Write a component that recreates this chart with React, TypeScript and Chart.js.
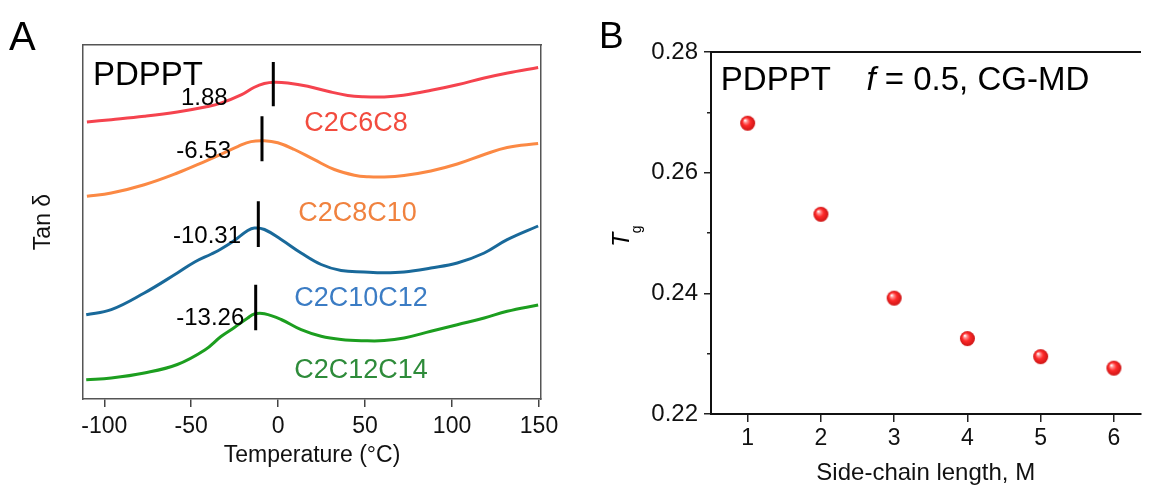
import React, { useEffect, useRef } from 'react';
import { Chart, registerables } from 'chart.js';

Chart.register(...registerables);

const FONT = "'Liberation Sans', Arial, Helvetica, sans-serif";

// ---------------- Panel A data ----------------
const tempTicks = [-100, -50, 0, 50, 100, 150];
const seriesNames = ['C2C6C8', 'C2C8C10', 'C2C10C12', 'C2C12C14'];
const peakLabels = ['1.88', '-6.53', '-10.31', '-13.26'];

const tempC2C6C8 = [-110, -96, -77, -58, -42, -33, -21, -14, -8, -2, 5.5, 17, 28.5, 40, 49, 61, 72, 88, 103, 118.5, 132, 149.5];
const tanC2C6C8 = [2.77, 2.793, 2.827, 2.87, 2.92, 2.958, 3.043, 3.115, 3.155, 3.168, 3.16, 3.127, 3.077, 3.035, 3.022, 3.02, 3.037, 3.087, 3.143, 3.21, 3.26, 3.315];

const tempC2C8C10 = [-110, -96, -77, -58, -42, -33, -23, -15.6, -8, -0.2, 9.3, 20.8, 32.3, 43.8, 52, 61, 72.4, 87.8, 103, 118.5, 131.7, 149.5];
const tanC2C8C10 = [2.027, 2.06, 2.143, 2.26, 2.377, 2.447, 2.527, 2.574, 2.583, 2.562, 2.495, 2.393, 2.295, 2.238, 2.222, 2.22, 2.235, 2.28, 2.35, 2.445, 2.515, 2.555];

const tempC2C10C12 = [-110.4, -96, -77, -58, -48, -38.4, -32.9, -25.2, -17.5, -13.7, -7.9, 1.7, 13.2, 24.7, 36.2, 49.4, 61, 72.4, 87.8, 103, 118.5, 131.7, 149.5];
const tanC2C10C12 = [0.843, 0.893, 1.06, 1.26, 1.37, 1.45, 1.50, 1.585, 1.685, 1.71, 1.695, 1.595, 1.46, 1.345, 1.285, 1.27, 1.262, 1.27, 1.31, 1.36, 1.46, 1.593, 1.73];

const tempC2C12C14 = [-110.4, -96, -77, -58, -42.2, -32.9, -25.2, -17.5, -13.7, -7.9, 1.7, 13.2, 24.7, 36.2, 49.4, 61, 72.4, 87.8, 103, 118.5, 131.7, 149.5];
const tanC2C12C14 = [0.193, 0.21, 0.26, 0.345, 0.49, 0.625, 0.715, 0.81, 0.85, 0.852, 0.795, 0.693, 0.627, 0.595, 0.583, 0.584, 0.61, 0.677, 0.743, 0.81, 0.877, 0.94];

// Tg marker bars (temperature, top, bottom)
const markerTemp = [-2.81, -9.31, -11.43, -12.93];
const markerTop = [3.37, 2.827, 1.977, 1.143];
const markerBottom = [2.927, 2.377, 1.52, 0.687];

// ---------------- Panel B data ----------------
const sideChainLength = [1, 2, 3, 4, 5, 6];
const tgValues = [0.2682, 0.2531, 0.2392, 0.2325, 0.2295, 0.2276];
const tgTicks = [0.22, 0.24, 0.26, 0.28];
const tgMinorTicks = [0.23, 0.25, 0.27];

// ---------------- styles ----------------
const lineColors = ['#f5434e', '#fb8944', '#19699a', '#1c9e1f'];
const textColors = ['#f24b3e', '#f0823f', '#3b7cc4', '#2e8b3a'];

// annotation anchors (data coordinates) for panel A
const peakLabelAnchor = [
  [-29.03, 2.943],
  [-27.13, 2.41],
  [-21.38, 1.56],
  [-19.48, 0.743],
];
const nameLabelAnchor = [
  [15.02, 2.677],
  [11.57, 1.777],
  [9.27, 0.927],
  [9.27, 0.21],
];

function toXY(xs: number[], ys: number[]) {
  return xs.map((x, i) => ({ x, y: ys[i] }));
}

function makeSphere(r: number) {
  const c = document.createElement('canvas');
  const s = Math.ceil(r * 2 + 2);
  c.width = s;
  c.height = s;
  const g = c.getContext('2d')!;
  const cx = s / 2;
  const cy = s / 2;
  const grad = g.createRadialGradient(cx - r * 0.35, cy - r * 0.4, r * 0.05, cx, cy, r);
  grad.addColorStop(0, '#ffffff');
  grad.addColorStop(0.2, '#ff9090');
  grad.addColorStop(0.5, '#ff2a2a');
  grad.addColorStop(1, '#cc1414');
  g.fillStyle = grad;
  g.beginPath();
  g.arc(cx, cy, r, 0, Math.PI * 2);
  g.fill();
  return c;
}

const annotationsA = {
  id: 'annotationsA',
  afterDatasetsDraw(chart: any) {
    const { ctx, scales } = chart;
    const x = scales.x;
    const y = scales.y;
    ctx.save();
    ctx.textBaseline = 'alphabetic';
    ctx.fillStyle = '#000';
    ctx.textAlign = 'left';
    ctx.font = `40px ${FONT}`;
    ctx.fillText('A', 9, 50);
    ctx.font = `33px ${FONT}`;
    ctx.fillText('PDPPT', x.getPixelForValue(-106.5), y.getPixelForValue(3.143));
    ctx.font = `24px ${FONT}`;
    ctx.textAlign = 'right';
    peakLabels.forEach((t, i) => {
      ctx.fillText(t, x.getPixelForValue(peakLabelAnchor[i][0]), y.getPixelForValue(peakLabelAnchor[i][1]));
    });
    ctx.textAlign = 'left';
    ctx.font = `27px ${FONT}`;
    seriesNames.forEach((t, i) => {
      ctx.fillStyle = textColors[i];
      ctx.fillText(t, x.getPixelForValue(nameLabelAnchor[i][0]), y.getPixelForValue(nameLabelAnchor[i][1]));
    });
    ctx.restore();
  },
};

const annotationsB = {
  id: 'annotationsB',
  afterDatasetsDraw(chart: any) {
    const { ctx, scales } = chart;
    const x = scales.x;
    const y = scales.y;
    ctx.save();
    ctx.textBaseline = 'alphabetic';
    ctx.fillStyle = '#000';
    ctx.textAlign = 'left';
    ctx.font = `37px ${FONT}`;
    ctx.fillText('B', 25, 48);
    ctx.font = `33px ${FONT}`;
    const by = y.getPixelForValue(0.2737);
    ctx.fillText('PDPPT', x.getPixelForValue(0.6345), by);
    const fx = x.getPixelForValue(2.622);
    ctx.font = `italic 33px ${FONT}`;
    ctx.fillText('f', fx, by);
    const fw = ctx.measureText('f').width;
    ctx.font = `33px ${FONT}`;
    ctx.fillText(' = 0.5, CG-MD', fx + fw, by);
    // y-axis title: italic T with subscript g, rotated
    ctx.translate(55.3, 246.7);
    ctx.rotate(-Math.PI / 2);
    ctx.font = `italic 23px ${FONT}`;
    ctx.fillText('T', 0, 0);
    ctx.font = `14px ${FONT}`;
    ctx.fillText('g', 13.4, 11.5);
    ctx.restore();
  },
};

export default function App() {
  const refA = useRef<HTMLCanvasElement>(null);
  const refB = useRef<HTMLCanvasElement>(null);

  useEffect(() => {
    const temps = [tempC2C6C8, tempC2C8C10, tempC2C10C12, tempC2C12C14];
    const tans = [tanC2C6C8, tanC2C8C10, tanC2C10C12, tanC2C12C14];
    const curveSets = seriesNames.map((name, i) => ({
      label: name,
      data: toXY(temps[i], tans[i]),
      borderColor: lineColors[i],
      backgroundColor: lineColors[i],
      borderWidth: 3,
      pointRadius: 0,
      tension: 0.4,
      fill: false,
      order: 1,
    }));
    const markerSets = markerTemp.map((t, i) => ({
      label: 'Tg ' + peakLabels[i],
      data: [
        { x: t, y: markerTop[i] },
        { x: t, y: markerBottom[i] },
      ],
      borderColor: '#000',
      backgroundColor: '#000',
      borderWidth: 3,
      pointRadius: 0,
      tension: 0,
      fill: false,
      order: 0,
    }));

    const xMinA = -112.25;
    const xMaxA = 151.15;
    const frameA = '#555';
    const tickFontA = { family: FONT, size: 23 };

    const chartA = new Chart(refA.current!, {
      type: 'line',
      data: { datasets: [...curveSets, ...markerSets] as any },
      options: {
        animation: false,
        responsive: false,
        maintainAspectRatio: false,
        devicePixelRatio: 1,
        layout: { padding: 0 },
        plugins: { legend: { display: false }, tooltip: { enabled: false } },
        scales: {
          x: {
            type: 'linear',
            position: 'bottom',
            min: xMinA,
            max: xMaxA,
            afterBuildTicks: (s: any) => {
              s.ticks = tempTicks.map((v) => ({ value: v }));
            },
            ticks: { font: tickFontA, color: '#111', padding: 6, maxRotation: 0, autoSkip: false },
            grid: { display: true, drawOnChartArea: false, drawTicks: true, tickLength: 8, color: '#444', lineWidth: 1.5 },
            border: { display: true, color: frameA, width: 1.5 },
            title: { display: true, text: 'Temperature (°C)', font: { family: FONT, size: 23 }, color: '#111', padding: { top: 0, bottom: 22 } },
            afterFit: (s: any) => {
              s.height = 92;
            },
          },
          xTop: {
            type: 'linear',
            position: 'top',
            min: xMinA,
            max: xMaxA,
            ticks: { display: false },
            grid: { display: false },
            border: { display: true, color: frameA, width: 1.5 },
            afterFit: (s: any) => {
              s.height = 45;
            },
          },
          y: {
            type: 'linear',
            position: 'left',
            min: 0,
            max: 3.54,
            ticks: { display: false },
            grid: { display: false },
            border: { display: true, color: frameA, width: 1.5 },
            title: { display: true, text: 'Tan δ', font: { family: FONT, size: 23 }, color: '#111', padding: { top: 30, bottom: 0 } },
            afterFit: (s: any) => {
              s.width = 83;
            },
          },
          yRight: {
            type: 'linear',
            position: 'right',
            min: 0,
            max: 3.54,
            ticks: { display: false },
            grid: { display: false },
            border: { display: true, color: frameA, width: 1.5 },
            afterFit: (s: any) => {
              s.width = 33;
            },
          },
        },
      } as any,
      plugins: [annotationsA],
    });

    const sphere = makeSphere(7.5);
    const xMinB = 0.5;
    const xMaxB = 6.363;
    const axisB = '#111';

    const chartB = new Chart(refB.current!, {
      type: 'scatter',
      data: {
        datasets: [
          {
            label: 'Tg',
            data: toXY(sideChainLength, tgValues),
            pointStyle: sphere as any,
            pointRadius: 7.5,
            showLine: false,
          },
        ],
      },
      options: {
        animation: false,
        responsive: false,
        maintainAspectRatio: false,
        devicePixelRatio: 1,
        layout: { padding: 0 },
        plugins: { legend: { display: false }, tooltip: { enabled: false } },
        scales: {
          x: {
            type: 'linear',
            position: 'bottom',
            min: xMinB,
            max: xMaxB,
            afterBuildTicks: (s: any) => {
              s.ticks = sideChainLength.map((v) => ({ value: v }));
            },
            ticks: { font: { family: FONT, size: 23 }, color: '#111', padding: 3, maxRotation: 0, autoSkip: false },
            grid: { display: true, drawOnChartArea: false, drawTicks: true, tickLength: 8, color: '#222', lineWidth: 1.5 },
            border: { display: true, color: axisB, width: 2 },
            title: { display: true, text: 'Side-chain length, M', font: { family: FONT, size: 24 }, color: '#111', padding: { top: 0, bottom: 3 } },
            afterFit: (s: any) => {
              s.height = 77;
            },
          },
          xTop: {
            type: 'linear',
            position: 'top',
            min: xMinB,
            max: xMaxB,
            ticks: { display: false },
            grid: { display: false },
            border: { display: true, color: axisB, width: 2 },
            afterFit: (s: any) => {
              s.height = 52;
            },
          },
          y: {
            type: 'linear',
            position: 'left',
            weight: 1,
            min: 0.22,
            max: 0.28,
            afterBuildTicks: (s: any) => {
              s.ticks = tgTicks.map((v) => ({ value: v }));
            },
            ticks: {
              font: { family: FONT, size: 24 },
              color: '#111',
              padding: 6,
              autoSkip: false,
              callback: (v: any) => Number(v).toFixed(2),
            },
            grid: { display: true, drawOnChartArea: false, drawTicks: true, tickLength: 7, color: '#222', lineWidth: 1.5 },
            border: { display: true, color: axisB, width: 2 },
            afterFit: (s: any) => {
              s.width = 137;
            },
          },
          yMinor: {
            type: 'linear',
            position: 'left',
            weight: 0,
            min: 0.22,
            max: 0.28,
            afterBuildTicks: (s: any) => {
              s.ticks = tgMinorTicks.map((v) => ({ value: v }));
            },
            ticks: { display: false },
            grid: { display: true, drawOnChartArea: false, drawTicks: true, tickLength: 4, color: '#222', lineWidth: 1.5 },
            border: { display: false },
            afterFit: (s: any) => {
              s.width = 0;
            },
          },
        },
      } as any,
      plugins: [annotationsB],
    });

    return () => {
      chartA.destroy();
      chartB.destroy();
    };
  }, []);

  return (
    <div style={{ position: 'fixed', left: 0, top: 0, width: 1149, height: 491, background: '#fff', overflow: 'hidden' }}>
      <canvas ref={refA} width={574} height={491} style={{ position: 'absolute', left: 0, top: 0, width: 574, height: 491 }} />
      <canvas ref={refB} width={575} height={491} style={{ position: 'absolute', left: 574, top: 0, width: 575, height: 491 }} />
    </div>
  );
}
